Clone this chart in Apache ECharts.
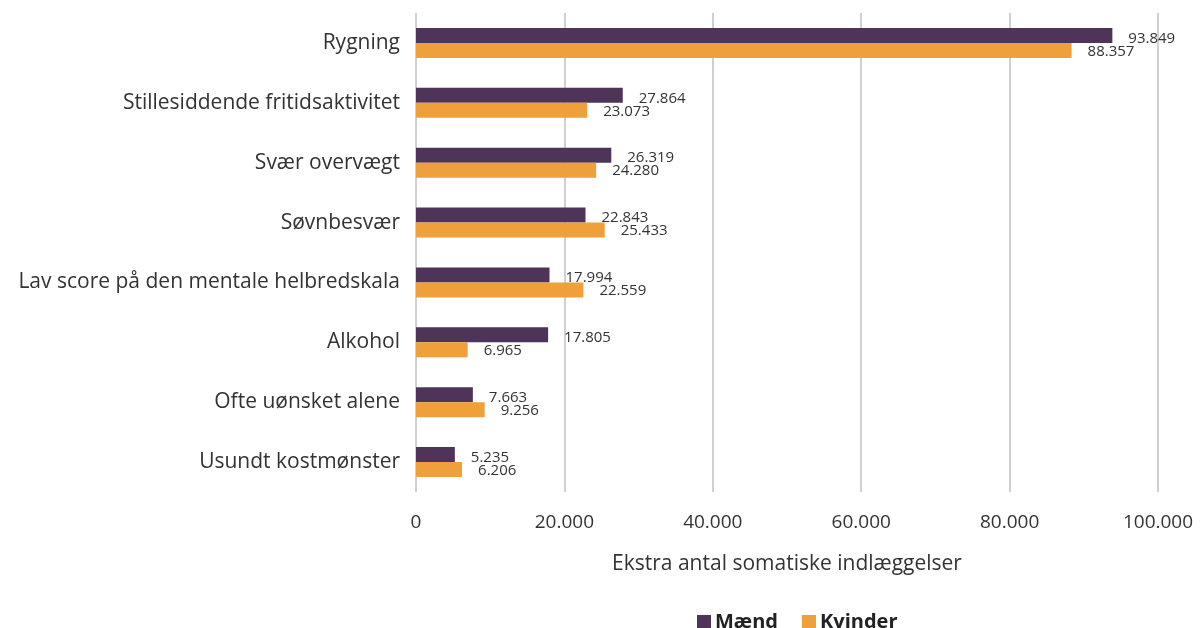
<!DOCTYPE html>
<html>
<head>
<meta charset="utf-8">
<script src="https://cdn.jsdelivr.net/npm/echarts@6/dist/echarts.min.js"></script>
<style>
  html, body { margin: 0; padding: 0; background: #fff; }
  #chart { width: 1201px; height: 628px; }
</style>
</head>
<body>
<div id="chart"></div>
<script>
// kategorier (øverst til nederst)
const categories = [
  'Rygning',
  'Stillesiddende fritidsaktivitet',
  'Svær overvægt',
  'Søvnbesvær',
  'Lav score på den mentale helbredskala',
  'Alkohol',
  'Ofte uønsket alene',
  'Usundt kostmønster'
]
const maend = [93849, 27864, 26319, 22843, 17994, 17805, 7663, 5235]
const kvinder = [88357, 23073, 24280, 25433, 22559, 6965, 9256, 6206]
const xTicks = [0, 20000, 40000, 60000, 80000, 100000]

const fmt = (v) => String(v).replace(/\B(?=(\d{3})+(?!\d))/g, '.')
const font = '"Open Sans", sans-serif'

const chart = echarts.init(document.getElementById('chart'))
const option = {
  animation: false,
  textStyle: { fontFamily: font },
  color: ['#4f3459', '#f0a03a'],
  grid: { left: 416, right: 43, top: 13, bottom: 136 },
  legend: {
    top: 607,
    left: 692,
    icon: 'rect',
    itemWidth: 14,
    itemHeight: 14,
    itemGap: 24,
    textStyle: { fontSize: 20, fontWeight: 'bold', color: '#222', fontFamily: font, padding: [0, 0, 0, -1] },
    data: ['Mænd', 'Kvinder']
  },
  xAxis: {
    type: 'value',
    min: 0,
    max: 100000,
    interval: 20000,
    name: 'Ekstra antal somatiske indlæggelser',
    nameLocation: 'middle',
    nameGap: 62,
    nameTextStyle: { fontSize: 21, color: '#333' },
    axisLine: { show: false },
    axisTick: { show: false },
    axisLabel: {
      fontSize: 19,
      color: '#333',
      margin: 21,
      formatter: (v) => (xTicks.includes(v) ? fmt(v) : '')
    },
    splitLine: { lineStyle: { color: '#d0d0d0', width: 2 } }
  },
  yAxis: {
    type: 'category',
    inverse: true,
    data: categories,
    axisLine: { show: false },
    axisTick: { show: false },
    axisLabel: { fontSize: 21, color: '#333', margin: 16 }
  },
  series: [
    {
      name: 'Mænd',
      type: 'bar',
      data: maend,
      barWidth: 15,
      barGap: '0%',
      label: {
        show: true,
        position: 'right',
        distance: 16,
        offset: [0, 3],
        fontSize: 15,
        color: '#333',
        formatter: (p) => fmt(p.value)
      }
    },
    {
      name: 'Kvinder',
      type: 'bar',
      data: kvinder,
      barWidth: 15,
      barGap: '0%',
      label: {
        show: true,
        position: 'right',
        distance: 16,
        offset: [0, 1],
        fontSize: 15,
        color: '#333',
        formatter: (p) => fmt(p.value)
      }
    }
  ]
}
chart.setOption(option)
</script>
</body>
</html>
